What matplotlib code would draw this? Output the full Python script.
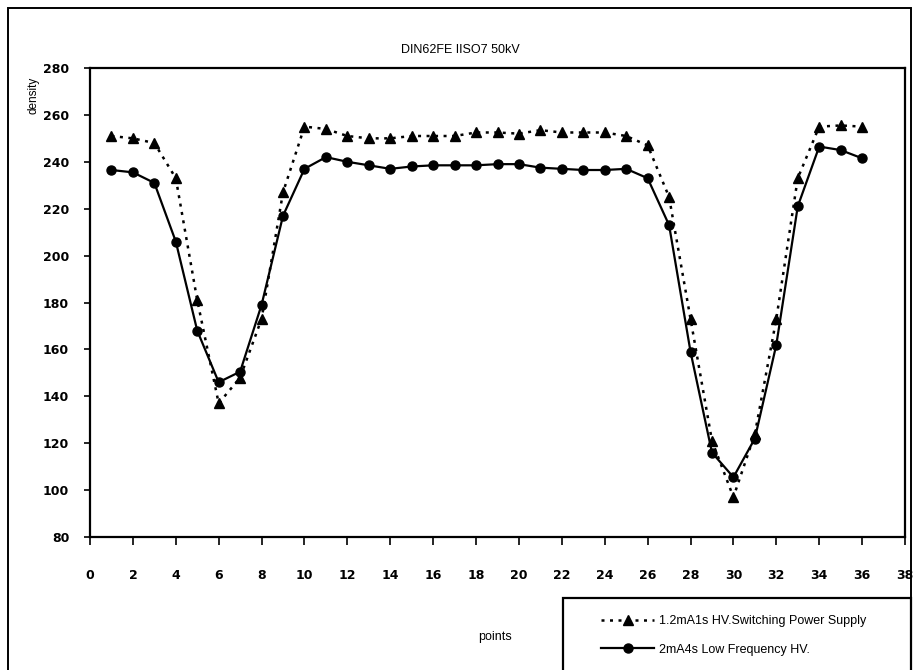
import matplotlib
matplotlib.use("Agg")
import matplotlib.pyplot as plt
from matplotlib.patches import Rectangle

# measurement points along the scan
points = list(range(1, 37))

# 1.2mA1s HV.Switching Power Supply
density_switching = [251, 250, 248, 233, 181, 137, 148, 173, 227, 255,
                     254, 251, 250, 250, 251, 251, 251, 252.5, 252.5, 252,
                     253.5, 252.5, 252.5, 252.5, 251, 247, 225, 173, 121, 97,
                     124, 173, 233, 255, 255.5, 255]

# 2mA4s Low Frequency HV.
density_lowfreq = [236.5, 235.5, 231, 206, 168, 146, 150.5, 179, 217, 237,
                   242, 240, 238.5, 237, 238, 238.5, 238.5, 238.5, 239, 239,
                   237.5, 237, 236.5, 236.5, 237, 233, 213, 159, 116, 105.5,
                   122, 162, 221, 246.5, 245, 241.5]

labels = ["1.2mA1s HV.Switching Power Supply", "2mA4s Low Frequency HV."]
title = "DIN62FE IISO7 50kV"
x_ticks = list(range(0, 39, 2))
y_ticks = list(range(80, 281, 20))

narrow = ['Liberation Sans Narrow', 'DejaVu Sans']
plain = ['Liberation Sans', 'DejaVu Sans']

W, H = 913, 670
fig = plt.figure(figsize=(W / 100, H / 100), dpi=100)
fig.set_facecolor('white')

ax = fig.add_axes([90 / W, 1 - 537 / H, (905 - 90) / W, (537 - 68) / H])

l1, = ax.plot(points, density_switching, color='black', linestyle=(0, (1.2, 2.2)),
              linewidth=1.8, marker='^', markersize=7)
l2, = ax.plot(points, density_lowfreq, color='black', linestyle='solid',
              linewidth=1.6, marker='o', markersize=6.5)

ax.set_xlim(0, 38)
ax.set_ylim(80, 280)
ax.set_xticks(x_ticks)
ax.set_yticks(y_ticks)
ax.tick_params(axis='x', direction='out', length=6, width=1.2, pad=17)
ax.tick_params(axis='y', direction='out', length=4, width=1.2, pad=11)
for lab in ax.get_xticklabels() + ax.get_yticklabels():
    lab.set_family(narrow)
    lab.set_fontweight('bold')
    lab.set_fontsize(9)
for sp in ax.spines.values():
    sp.set_linewidth(1.6)

# title, axis names
fig.text(460 / W, 1 - 50 / H, title, ha='center', va='center',
         fontsize=9, family=plain)
fig.text(33 / W, 1 - 95 / H, "density", rotation=90, ha='center', va='center',
         fontsize=8.5, family=plain)
fig.text(495 / W, 1 - 637 / H, "points", ha='center', va='center',
         fontsize=9, family=plain)

# outer border and legend box
fig.patches.append(Rectangle((8 / W, -0.05), (911 - 8) / W, 1.05 - 8 / H,
                             transform=fig.transFigure, fill=False,
                             edgecolor='black', linewidth=1.4))
fig.patches.append(Rectangle((563 / W, -0.05), (911 - 563) / W, 0.05 + 1 - 598 / H,
                             transform=fig.transFigure, fill=False,
                             edgecolor='black', linewidth=1.6))

leg = fig.legend([l1, l2], labels, loc='upper left',
                 bbox_to_anchor=(595 / W, 1 - 609 / H), frameon=False,
                 prop={'family': plain, 'size': 9}, handlelength=4.2,
                 labelspacing=1.3, handletextpad=0.4, borderpad=0)

fig.savefig("out.png", dpi=100)
